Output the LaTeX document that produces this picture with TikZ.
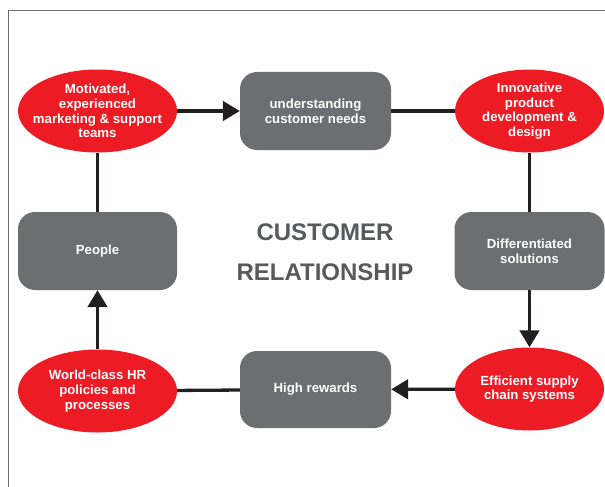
\documentclass[tikz,border=0pt]{standalone}
\usepackage{fontspec}
\setsansfont{Liberation Sans}
\usetikzlibrary{shapes.geometric,arrows.meta}
\definecolor{cred}{HTML}{ED1C24}
\definecolor{cgray}{HTML}{6D6E71}
\definecolor{cline}{HTML}{231F20}
\definecolor{ctitle}{HTML}{58595B}
\definecolor{cframe}{HTML}{707070}
\begin{document}
\begin{tikzpicture}[x=1pt,y=-1pt,
  redell/.style={ellipse,fill=cred,draw=none,inner sep=0pt,align=center,text=white,
    font=\sffamily\bfseries\fontsize{13.2}{14.7}\selectfont},
  graybox/.style={rectangle,rounded corners=17pt,fill=cgray,draw=none,inner sep=0pt,align=center,text=white,
    minimum width=151pt,minimum height=78pt,
    font=\sffamily\bfseries\fontsize{13.2}{14.9}\selectfont},
  conn/.style={draw=cline,line width=3.3pt},
  arr/.style={conn,-{Triangle[length=17pt,width=19.5pt]}},
  titletext/.style={text=ctitle,align=center,inner sep=0pt,
    font=\sffamily\bfseries\fontsize{24}{40}\selectfont}]
\useasboundingbox (0,0) rectangle (605,487);
\draw[cframe,line width=1.1pt] (8.6,487) -- (8.6,10.8) -- (605,10.8);
% nodes
\node[redell,inner xsep=-10pt,inner ysep=-1pt,minimum width=159pt,minimum height=83pt] (e1) at (97.5,111) {Motivated,\\experienced\\marketing \& support\\teams};
\node[graybox] (b1) at (315.5,111) {understanding\\customer needs};
\node[redell,inner ysep=-1pt,minimum width=149pt,minimum height=83pt] (e2) at (529.5,111) {Innovative\\product\\development \&\\design};
\node[graybox,minimum width=150pt] (b2) at (529.5,251) {Differentiated\\solutions};
\node[redell,minimum width=149pt,minimum height=83pt] (e3) at (529.5,389) {Efficient supply\\chain systems};
\node[graybox,minimum height=77pt] (b3) at (315.5,389.5) {High rewards};
\node[redell,minimum width=159pt,minimum height=83pt] (e4) at (97.5,391) {World-class HR\\policies and\\processes};
\node[graybox,minimum width=159pt] (b4) at (97.5,251) {People};
\node[titletext] (t) at (325,252) {CUSTOMER\\RELATIONSHIP};
% connectors
\draw[arr] (e1) -- (b1);
\draw[conn] (b1) -- (e2);
\draw[conn] (e2) -- (b2);
\draw[arr] (b2) -- (e3);
\draw[arr] (e3) -- (b3);
\draw[conn] (b3) -- (e4);
\draw[arr] (e4) -- (b4);
\draw[conn] (b4) -- (e1);
\end{tikzpicture}
\end{document}
